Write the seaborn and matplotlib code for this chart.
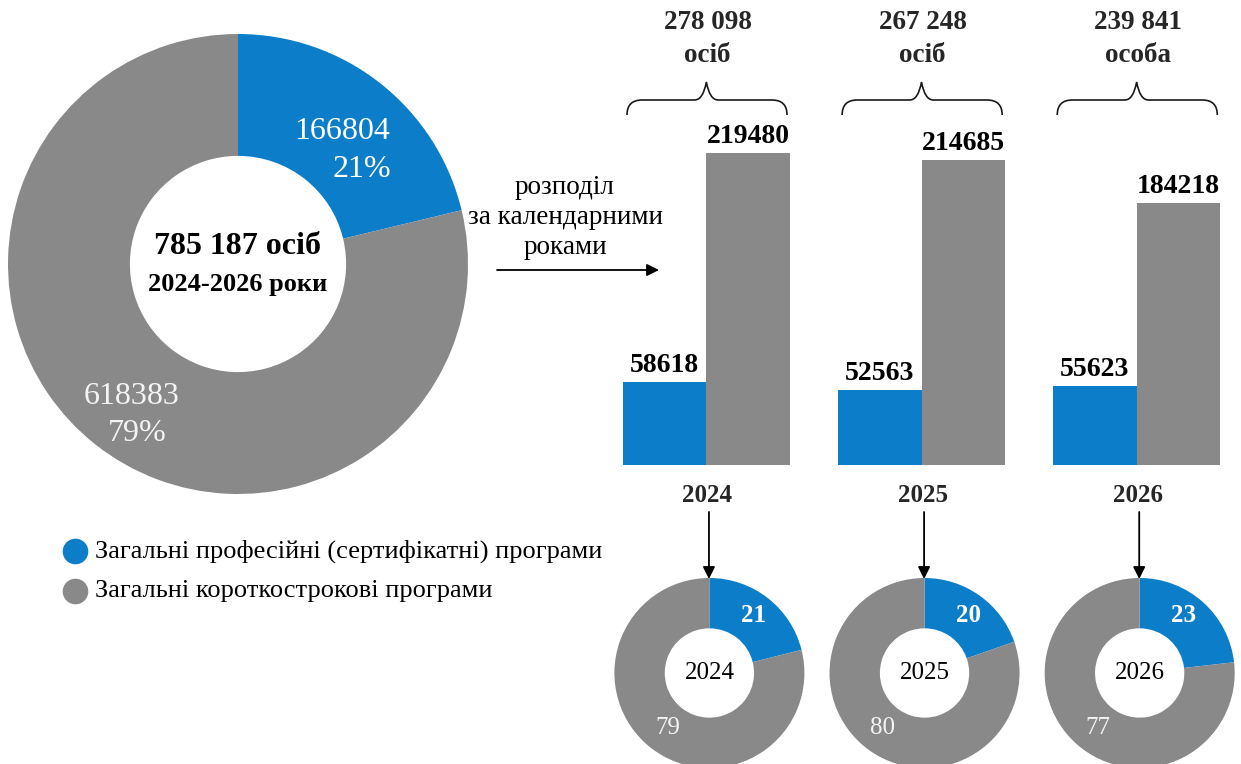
import numpy as np
import pandas as pd
import matplotlib
matplotlib.use("Agg")
import matplotlib.pyplot as plt
import matplotlib.transforms as mtransforms
from matplotlib.path import Path
from matplotlib.patches import PathPatch
import seaborn as sns

# ---------------- data ----------------
years = ["2024", "2025", "2026"]
prof_values = [58618, 52563, 55623]        # Загальні професійні (сертифікатні) програми
short_values = [219480, 214685, 184218]    # Загальні короткострокові програми
total_words = ["осіб", "осіб", "особа"]
series_names = ["Загальні професійні (сертифікатні) програми",
                "Загальні короткострокові програми"]
overall_word = "осіб"
overall_caption = "2024-2026 роки"
flow_caption = ["розподіл", "за календарними", "роками"]

BLUE = "#0B7DC9"
GRAY = "#898989"
LIGHT = "#F4F4F4"

sns.set_theme(style="white")
plt.rcParams["font.family"] = ["Liberation Serif", "DejaVu Serif"]


def fmt_space(n):
    return f"{int(n):,}".replace(",", " ")


W, H = 1241, 764
fig = plt.figure(figsize=(W / 100, H / 100), dpi=100)


def box(cx, cy, r):
    return [(cx - r) / W, (H - cy - r) / H, 2 * r / W, 2 * r / H]


# ---------------- big donut ----------------
tot_p = sum(prof_values)
tot_s = sum(short_values)
tot = tot_p + tot_s
axd = fig.add_axes(box(238, 264, 230))
axd.pie([tot_p, tot_s], colors=[BLUE, GRAY], startangle=90, counterclock=False,
        radius=1, wedgeprops=dict(width=0.53, linewidth=0))
axd.set_xlim(-1, 1)
axd.set_ylim(-1, 1)
axd.set_aspect("equal")
axd.axis("off")
pp = round(100 * tot_p / tot)
ps = round(100 * tot_s / tot)
axd.text(0.452, 0.578, f"{tot_p}", color="white", fontsize=23, ha="center", va="center")
axd.text(0.539, 0.413, f"{pp}%", color="white", fontsize=23, ha="center", va="center")
axd.text(-0.461, -0.578, f"{tot_s}", color=LIGHT, fontsize=23, ha="center", va="center")
axd.text(-0.439, -0.735, f"{ps}%", color=LIGHT, fontsize=23, ha="center", va="center")
axd.text(0.0, 0.075, f"{fmt_space(tot)} {overall_word}", color="black", fontsize=23,
         fontweight="bold", ha="center", va="center")
axd.text(0.0, -0.091, overall_caption, color="black", fontsize=19,
         fontweight="bold", ha="center", va="center")

# ---------------- bars ----------------
df = pd.DataFrame({
    "year": years * 2,
    "prog": [series_names[0]] * 3 + [series_names[1]] * 3,
    "value": prof_values + short_values,
})
ax_left, ax_right, ax_base = 623, 1220, 465
ymax = 260000
ax_h = ymax / 219480 * 312
axb = fig.add_axes([ax_left / W, (H - ax_base) / H, (ax_right - ax_left) / W, ax_h / H])
sns.barplot(data=df, x="year", y="value", hue="prog", order=years, hue_order=series_names,
            palette=[BLUE, GRAY], width=0.775, gap=0, saturation=1, legend=False,
            linewidth=0, ax=axb)
axb.set_xlim(-0.3875, 2.3875)
axb.set_ylim(0, ymax)
axb.axis("off")
for cont in axb.containers:
    axb.bar_label(cont, fmt="{:.0f}", padding=3, fontsize=20, fontweight="bold", color="black")

tr = mtransforms.blended_transform_factory(axb.transData, axb.transAxes)


def yfrac(py):
    return (ax_base - py) / ax_h


for i, (a, b) in enumerate(zip(prof_values, short_values)):
    xc = i
    x0, x1 = xc - 0.369, xc + 0.375
    yb, yh, yt = yfrac(115), yfrac(100), yfrac(82)
    dx1, dx2 = 0.07, 0.055
    verts = [(x0, yb), (x0, yh), (x0 + dx1, yh),
             (xc - dx2, yh),
             (xc - 0.015, yh), (xc, yt),
             (xc + 0.015, yh), (xc + dx2, yh),
             (x1 - dx1, yh),
             (x1, yh), (x1, yb)]
    codes = [Path.MOVETO, Path.CURVE3, Path.CURVE3,
             Path.LINETO,
             Path.CURVE3, Path.CURVE3,
             Path.CURVE3, Path.CURVE3,
             Path.LINETO,
             Path.CURVE3, Path.CURVE3]
    axb.add_patch(PathPatch(Path(verts, codes), transform=tr, fill=False,
                            edgecolor="#1a1a1a", linewidth=1.2, clip_on=False))
    axb.text(xc + 0.005, yfrac(22), fmt_space(a + b), transform=tr, fontsize=19.5,
             fontweight="bold", ha="center", va="center", clip_on=False)
    axb.text(xc + 0.005, yfrac(55), total_words[i], transform=tr, fontsize=19.5,
             fontweight="bold", ha="center", va="center", clip_on=False)
    axb.text(xc + 0.005, yfrac(496), years[i], transform=tr, fontsize=18,
             fontweight="bold", ha="center", va="center", clip_on=False)
    axb.annotate("", xy=(xc + 0.012, yfrac(579)), xytext=(xc + 0.012, yfrac(512)),
                 xycoords=tr, textcoords=tr,
                 arrowprops=dict(arrowstyle="-|>", color="black", lw=1.3,
                                 mutation_scale=18, shrinkA=0, shrinkB=0),
                 annotation_clip=False)

# ---------------- small donuts ----------------
for i, (a, b) in enumerate(zip(prof_values, short_values)):
    cx = 709.4 + 215.14 * i
    axs = fig.add_axes(box(cx, 673, 95))
    axs.pie([a, b], colors=[BLUE, GRAY], startangle=90, counterclock=False,
            radius=1, wedgeprops=dict(width=0.53, linewidth=0))
    axs.set_xlim(-1, 1)
    axs.set_ylim(-1, 1)
    axs.set_aspect("equal")
    axs.axis("off")
    pa = round(100 * a / (a + b))
    axs.text(0.46, 0.6, f"{pa}", color="white", fontsize=18, fontweight="bold",
             ha="center", va="center")
    axs.text(-0.44, -0.58, f"{100 - pa}", color=LIGHT, fontsize=18,
             ha="center", va="center")
    axs.text(0.0, 0.0, years[i], color="black", fontsize=18, ha="center", va="center")

# ---------------- overlay: flow arrow & legend ----------------
ov = fig.add_axes([0, 0, 1, 1], zorder=10)
ov.set_xlim(0, W)
ov.set_ylim(H, 0)
ov.axis("off")
ov.patch.set_alpha(0)
ov.annotate("", xy=(659, 270), xytext=(497, 270),
            arrowprops=dict(arrowstyle="-|>", color="black", lw=1.3,
                            mutation_scale=18, shrinkA=0, shrinkB=0))
for k, (line, yy) in enumerate(zip(flow_caption, [187, 217, 248])):
    ov.text(565, yy, line, fontsize=19.5, ha="center", va="center", color="black")

for k, (name, col) in enumerate(zip(series_names, [BLUE, GRAY])):
    yy = 551 + 40 * k
    ov.scatter([75], [yy], s=340, color=col, linewidth=0)
    ov.text(95, yy, name, fontsize=19, ha="left", va="center", color="black")

fig.savefig("out.png", dpi=100)
